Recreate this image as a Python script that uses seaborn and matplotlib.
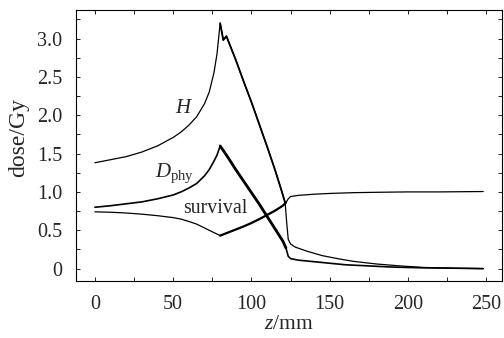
import pandas as pd
import matplotlib
matplotlib.use("Agg")
import matplotlib.pyplot as plt
from matplotlib.ticker import MultipleLocator
import seaborn as sns

# ---- data (depth z in mm, dose in Gy) ----
h_z = [0, 10, 20, 30, 40, 50, 55, 60, 65, 70, 73, 76, 78, 80, 82, 84, 90, 95, 100,
       105, 110, 115, 119, 121.5, 122.5, 123.5, 125, 128, 135, 145, 155, 165, 180,
       195, 210, 230, 248]
h_dose = [1.38, 1.42, 1.46, 1.52, 1.60, 1.71, 1.78, 1.87, 1.98, 2.15, 2.30, 2.55,
          2.80, 3.20, 2.98, 3.03, 2.72, 2.44, 2.17, 1.88, 1.59, 1.29, 1.03, 0.86,
          0.60, 0.38, 0.32, 0.28, 0.23, 0.17, 0.13, 0.095, 0.06, 0.035, 0.015,
          0.005, 0.0]

dphy_z = [0, 10, 20, 30, 40, 50, 55, 60, 65, 70, 73, 76, 78, 80, 85, 90, 95, 100,
          105, 110, 115, 120, 122, 123.5, 125, 130, 140, 150, 160, 175, 190, 210,
          230, 248]
dphy_dose = [0.80, 0.82, 0.845, 0.87, 0.91, 0.96, 1.00, 1.05, 1.11, 1.21, 1.29,
             1.40, 1.48, 1.60, 1.45, 1.29, 1.14, 0.99, 0.84, 0.68, 0.52, 0.36,
             0.27, 0.16, 0.13, 0.11, 0.09, 0.07, 0.05, 0.035, 0.02, 0.01, 0.005,
             0.0]

surv_z = [0, 10, 20, 30, 40, 50, 55, 60, 65, 70, 74, 77, 80, 85, 90, 95, 100, 105,
          110, 115, 120, 122, 123.5, 125, 130, 140, 150, 165, 180, 200, 220, 248]
surv_val = [0.74, 0.735, 0.725, 0.71, 0.69, 0.665, 0.645, 0.615, 0.58, 0.53, 0.49,
            0.46, 0.43, 0.47, 0.51, 0.55, 0.595, 0.645, 0.70, 0.755, 0.82, 0.86,
            0.91, 0.94, 0.955, 0.97, 0.98, 0.99, 0.995, 1.0, 1.0, 1.005]

x_ticks = [0, 50, 100, 150, 200, 250]
y_ticks = [0, 0.5, 1.0, 1.5, 2.0, 2.5, 3.0]
y_ticklabels = ["0", "0.5", "1.0", "1.5", "2.0", "2.5", "3.0"]

# ---- style ----
sns.set_theme(style="ticks")
plt.rcParams['font.family'] = ['Liberation Serif', 'DejaVu Serif']
plt.rcParams['mathtext.fontset'] = 'custom'
plt.rcParams['mathtext.rm'] = 'Liberation Serif'
plt.rcParams['mathtext.it'] = 'Liberation Serif:italic'

df_h = pd.DataFrame({'z': h_z, 'dose': h_dose})
df_d = pd.DataFrame({'z': dphy_z, 'dose': dphy_dose})
df_s = pd.DataFrame({'z': surv_z, 'dose': surv_val})

fig = plt.figure(figsize=(5.04, 3.38), dpi=100)
ax = fig.add_axes([0.151, 0.169, 0.845, 0.801])

# thin lines, the noisy Monte-Carlo part after the peak drawn a bit heavier
sns.lineplot(data=df_h, x='z', y='dose', ax=ax, color='black', linewidth=0.9)
sns.lineplot(data=df_h[(df_h.z >= 80) & (df_h.z <= 121.5)], x='z', y='dose',
             ax=ax, color='black', linewidth=1.3)
sns.lineplot(data=df_d, x='z', y='dose', ax=ax, color='black', linewidth=1.2)
sns.lineplot(data=df_d[(df_d.z >= 80) & (df_d.z <= 122)], x='z', y='dose',
             ax=ax, color='black', linewidth=2.0)
sns.lineplot(data=df_s, x='z', y='dose', ax=ax, color='black', linewidth=0.9)
sns.lineplot(data=df_s[(df_s.z >= 80) & (df_s.z <= 122)], x='z', y='dose',
             ax=ax, color='black', linewidth=1.6)

# curve labels
ax.text(51, 2.03, '$H$', fontsize=15, ha='left', va='baseline')
ax.text(38.4, 1.20, r'$D_{\mathrm{phy}}$', fontsize=15, ha='left', va='baseline')
ax.text(56.3, 0.73, 'survival', fontsize=14.3, ha='left', va='baseline')

ax.set_xlim(-12, 260)
ax.set_ylim(-0.16, 3.37)
ax.set_xticks(x_ticks)
ax.set_yticks(y_ticks)
ax.set_yticklabels(y_ticklabels)
ax.xaxis.set_minor_locator(MultipleLocator(25))
ax.yaxis.set_minor_locator(MultipleLocator(0.25))
ax.tick_params(which='both', direction='in', top=True, right=True,
               length=3, width=0.6, labelsize=14.5, color='black', pad=10)

for sp in ax.spines.values():
    sp.set_linewidth(0.8)
    sp.set_color('black')

ax.set_xlabel('$z$/mm', fontsize=15.5, labelpad=1)
ax.set_ylabel('dose/Gy', fontsize=17)
ax.yaxis.set_label_coords(-0.11, 0.53)

fig.savefig('out.png', dpi=100)
plt.close(fig)
